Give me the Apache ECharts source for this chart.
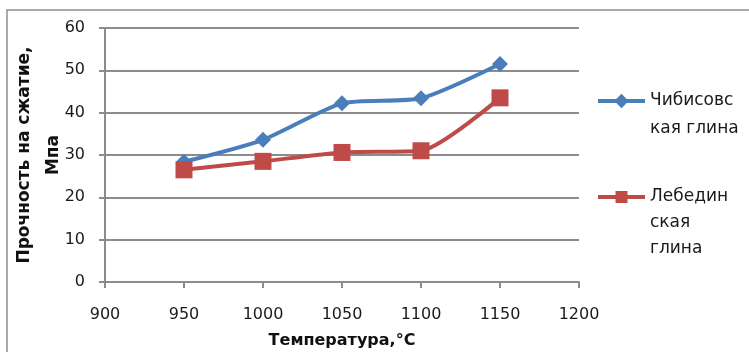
<!DOCTYPE html>
<html>
<head>
<meta charset="utf-8">
<script src="https://cdn.jsdelivr.net/npm/echarts@6/dist/echarts.min.js"></script>
<style>
  html, body { margin: 0; padding: 0; background: #fff; }
  #chart { width: 749px; height: 352px; }
</style>
</head>
<body>
<div id="chart"></div>
<script>
// Firing temperature, °C
var temperatures = [950, 1000, 1050, 1100, 1150];
// Compressive strength, MPa
var chibisovskaya = [28.4, 33.6, 42.2, 43.4, 51.5];
var lebedinskaya = [26.5, 28.5, 30.6, 31.0, 43.5];

var seriesNames = ['Чибисовская глина', 'Лебединская глина'];
var legendLines = [['Чибисовс', 'кая глина'], ['Лебедин', 'ская', 'глина']];
var xAxisTitle = 'Температура,°С';
var yAxisTitle = 'Прочность на сжатие,\nМпа';

var FONT = '"DejaVu Sans", sans-serif';
var BLUE = '#4a7ebb';
var RED = '#be4b48';
var GRID_GRAY = '#8c8c8c';

function pairs(xs, ys) {
  return xs.map(function (x, i) { return [x, ys[i]]; });
}

// Legend text is centred on its icon; blank leading lines put the
// first line of the wrapped name level with the icon instead.
function legendFor(idx, iconY, lineHeight, itemHeight) {
  var lines = legendLines[idx];
  var pad = [];
  for (var i = 1; i < lines.length; i++) pad.push('');
  var total = (pad.length + lines.length) * lineHeight;
  return {
    show: true,
    orient: 'vertical',
    left: 596,
    top: iconY - total / 2,
    padding: 0,
    itemWidth: 47,
    itemHeight: itemHeight,
    data: [seriesNames[idx]],
    formatter: function () { return pad.concat(lines).join('\n'); },
    lineStyle: { width: 4 },
    textStyle: {
      fontFamily: FONT,
      fontSize: 17,
      color: '#1a1a1a',
      lineHeight: lineHeight
    }
  };
}

var chart = echarts.init(document.getElementById('chart'), null, { renderer: 'canvas' });

chart.setOption({
  animation: false,
  backgroundColor: '#ffffff',
  graphic: [{
    type: 'rect',
    shape: { x: 7, y: 10, width: 800, height: 400 },
    style: { fill: 'none', stroke: '#8f8f8f', lineWidth: 1.5 },
    silent: true,
    z: -1
  }],
  grid: {
    left: 105, top: 28, width: 474, height: 254,
    containLabel: false,
    outerBoundsMode: 'none'
  },
  legend: [
    legendFor(0, 101, 28, 18),
    legendFor(1, 197, 26, 15)
  ],
  xAxis: {
    type: 'value',
    min: 900,
    max: 1200,
    interval: 50,
    name: xAxisTitle,
    nameLocation: 'middle',
    nameGap: 51,
    nameMoveOverlap: false,
    nameTextStyle: { fontFamily: FONT, fontSize: 16, fontWeight: 'bold', color: '#111' },
    axisLine: { show: true, onZero: false, lineStyle: { color: GRID_GRAY, width: 2 } },
    axisTick: { show: true, length: 6, lineStyle: { color: GRID_GRAY, width: 2 } },
    axisLabel: {
      fontFamily: FONT, fontSize: 16, color: '#1a1a1a', margin: 25,
      formatter: function (v) { return String(v); }
    },
    splitLine: { show: false }
  },
  yAxis: {
    type: 'value',
    min: 0,
    max: 60,
    interval: 10,
    name: yAxisTitle,
    nameLocation: 'middle',
    nameRotate: 90,
    nameGap: 37,
    nameMoveOverlap: false,
    nameTextStyle: { fontFamily: FONT, fontSize: 17, fontWeight: 'bold', color: '#111', lineHeight: 29 },
    axisLine: { show: true, lineStyle: { color: GRID_GRAY, width: 2 } },
    axisTick: { show: true, length: 6, lineStyle: { color: GRID_GRAY, width: 2 } },
    axisLabel: { fontFamily: FONT, fontSize: 16, color: '#1a1a1a', margin: 20 },
    splitLine: { show: true, lineStyle: { color: GRID_GRAY, width: 2 } }
  },
  series: [
    {
      name: seriesNames[0],
      type: 'line',
      data: pairs(temperatures, chibisovskaya),
      smooth: 0.22,
      symbol: 'diamond',
      symbolSize: 16,
      lineStyle: { color: BLUE, width: 4 },
      itemStyle: { color: BLUE },
      z: 3
    },
    {
      name: seriesNames[1],
      type: 'line',
      data: pairs(temperatures, lebedinskaya),
      smooth: 0.22,
      symbol: 'rect',
      symbolSize: 17,
      lineStyle: { color: RED, width: 4 },
      itemStyle: { color: RED },
      z: 4
    }
  ]
});
</script>
</body>
</html>
